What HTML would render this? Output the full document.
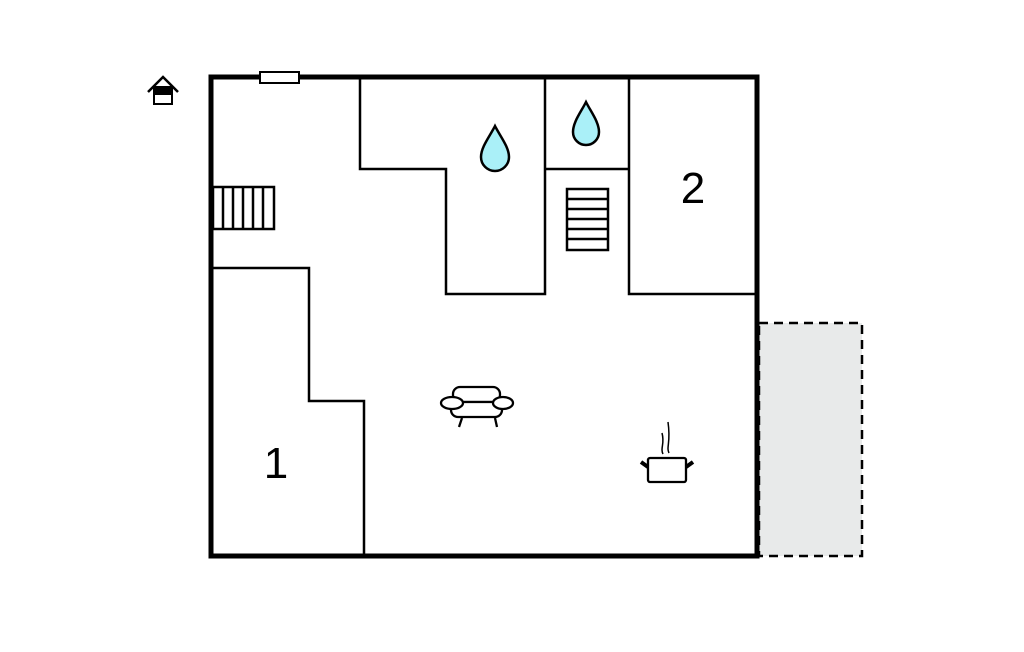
<!DOCTYPE html>
<html><head><meta charset="utf-8"><style>body{margin:0;background:#fff}svg{display:block}</style></head><body>
<svg width="1024" height="652" viewBox="0 0 1024 652" xmlns="http://www.w3.org/2000/svg">
<rect x="759" y="323" width="103" height="233" fill="#e8eaea" stroke="#000" stroke-width="2.5" stroke-dasharray="9,6"/>
<g fill="none" stroke="#000" stroke-width="2.5">
<polyline points="360,78 360,169 446,169 446,294 545,294 545,78"/>
<line x1="545" y1="169" x2="629" y2="169"/>
<polyline points="629,78 629,294 757,294"/>
<polyline points="213,268 309,268 309,401 364,401 364,556"/>
<rect x="213" y="187" width="61" height="42"/>
<path d="M223 187V229M233 187V229M243 187V229M253 187V229M263 187V229"/>
<rect x="567" y="189" width="41" height="61"/>
<path d="M567 199H608M567 209H608M567 219H608M567 229H608M567 239H608"/>
</g>
<rect x="211" y="77" width="546" height="479" fill="none" stroke="#000" stroke-width="5"/>
<rect x="260" y="72" width="39" height="11" fill="#fff" stroke="#000" stroke-width="2"/>
<g fill="#aaf0f8" stroke="#000" stroke-width="2.5">
<path d="M495 126 C490 136 481 147 481 157 A14 14 0 0 0 509 157 C509 147 500 136 495 126Z"/>
<path d="M586 102 C581 112 573 122 573 132 A13 13 0 0 0 599 132 C599 122 591 112 586 102Z"/>
</g>
<g font-family="Liberation Sans, sans-serif" font-size="44" text-anchor="middle">
<text x="693" y="203">2</text><text x="276" y="478">1</text>
</g>
<g fill="none" stroke="#000" stroke-width="2.5">
<path d="M148 92 L163 77 L178 92"/>
<rect x="154" y="94" width="18" height="10" fill="#fff" stroke-width="2"/>
</g>
<rect x="153" y="86" width="20" height="8" fill="#000"/>
<g fill="none" stroke="#000" stroke-width="2.3">
<rect x="453" y="387" width="47" height="15" rx="7"/>
<rect x="451" y="402" width="51" height="15" rx="7" fill="#fff"/>
<ellipse cx="452" cy="403" rx="11" ry="6" fill="#fff"/>
<ellipse cx="503" cy="403" rx="10" ry="6" fill="#fff"/>
<path d="M462 418 L459 427 M495 418 L497 427"/>
<rect x="648" y="458" width="38" height="24" rx="2"/>
<path d="M641 462 L648 467 M693 462 L686 467" stroke-width="4"/>
<path d="M663 454 C660 448 665 444 662 433 M669 453 C666 447 671 443 668 422" stroke-width="1.5"/>
</g>
</svg>
</body></html>
